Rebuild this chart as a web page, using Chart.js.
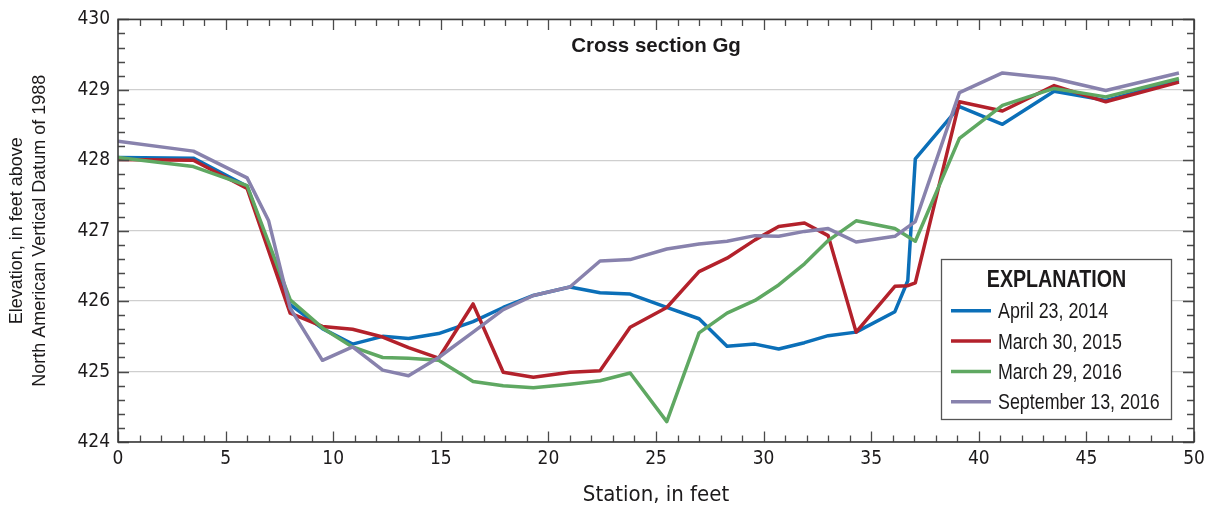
<!DOCTYPE html>
<html>
<head>
<meta charset="utf-8">
<script src="https://cdn.jsdelivr.net/npm/chart.js@4.4.1/dist/chart.umd.min.js"></script>
<style>
  html, body { margin: 0; padding: 0; background: #ffffff; }
  #wrap { width: 1214px; height: 510px; }
</style>
</head>
<body>
<div id="wrap"><canvas id="c" width="1214" height="510"></canvas></div>
<script>
// ---- Data ----
const stations = [0, 3.5, 6.0, 7.0, 8.0, 9.5, 10.9, 12.3, 13.5, 14.9, 16.5, 17.9, 19.3, 21.0, 22.4, 23.8,
                  25.5, 27.0, 28.3, 29.6, 30.7, 31.9, 33.0, 34.3, 36.1, 36.7, 37.05, 39.1, 41.1, 43.5, 45.9, 49.3];

const april2014 = [428.04, 428.03, 427.63, null, 425.95, 425.61, 425.39, 425.50, 425.47, 425.54, 425.71, 425.91,
                   426.08, 426.20, 426.12, 426.10, 425.91, 425.75, 425.36, 425.39, 425.32, 425.41, 425.51, 425.56,
                   425.85, 426.29, 428.02, 428.76, 428.51, 428.98, 428.85, 429.13];

const march2015 = [428.01, 428.00, 427.60, null, 425.83, 425.64, 425.60, 425.49, 425.34, 425.19, 425.96, 424.99,
                   424.92, 424.99, 425.01, 425.63, 425.91, 426.42, 426.61, 426.87, 427.06, 427.11, 426.93, 425.56,
                   426.21, 426.22, 426.26, 428.83, 428.70, 429.06, 428.83, 429.11];

const march2016 = [428.04, 427.91, 427.64, null, 426.02, 425.62, 425.35, 425.20, 425.19, 425.16, 424.86, 424.80,
                   424.77, 424.82, 424.87, 424.98, 424.29, 425.55, 425.83, 426.01, 426.23, 426.53, 426.86, 427.14,
                   427.03, null, 426.85, 428.31, 428.78, 429.02, 428.90, 429.16];

const sept2016 = [428.27, 428.13, 427.75, 427.14, 425.90, 425.16, 425.35, 425.02, 424.94, 425.20, 425.56, 425.88,
                  426.08, 426.20, 426.57, 426.59, 426.74, 426.81, 426.85, 426.93, 426.92, 426.99, 427.03, 426.84,
                  426.92, null, 427.13, 428.96, 429.24, 429.16, 428.99, 429.24];

const seriesLabels = ['April 23, 2014', 'March 30, 2015', 'March 29, 2016', 'September 13, 2016'];
const seriesColors = ['#0b6fb8', '#b3212b', '#5fa862', '#8882ad'];
const xTickValues = [0, 5, 10, 15, 20, 25, 30, 35, 40, 45, 50];
const yTickValues = [424, 425, 426, 427, 428, 429, 430];
const chartTitle = 'Cross section Gg';
const legendTitle = 'EXPLANATION';
const xTitle = 'Station, in feet';
const yTitle = ['Elevation, in feet above', 'North American Vertical Datum of 1988'];

// ---- Style ----
const CONDENSED = "'DejaVu Sans Condensed', 'Liberation Sans Narrow', 'Arial Narrow', sans-serif";
const REGULAR = "'Liberation Sans', Arial, sans-serif";
const TEXT = '#1c1a1b';

function pts(vals) { return stations.map((s, i) => ({ x: s, y: vals[i] })); }
const allSeries = [april2014, march2015, march2016, sept2016];

const datasets = allSeries.map((vals, i) => ({
  label: seriesLabels[i],
  data: pts(vals),
  borderColor: seriesColors[i],
  backgroundColor: seriesColors[i],
  borderWidth: 3.5,
  pointRadius: 0,
  tension: 0,
  spanGaps: true,
  fill: false,
  order: 4 - i
}));

// horizontally compressed text (imitates the condensed face of the original)
function narrowText(ctx, text, x, y, sx) {
  ctx.save();
  ctx.translate(x, y);
  ctx.scale(sx, 1);
  ctx.fillText(text, 0, 0);
  ctx.restore();
}

const framePlugin = {
  id: 'frame',
  afterDraw(chart) {
    const { ctx, chartArea: a, scales } = chart;
    const xs = scales.x, ys = scales.y;
    ctx.save();
    ctx.strokeStyle = '#4a4a4a';
    ctx.lineWidth = 1.3;
    ctx.beginPath();
    for (let v = 0; v <= 50; v += 1) {
      const px = Math.round(xs.getPixelForValue(v)) + 0.5;
      const len = (v % 5 === 0) ? 10.5 : 6.5;
      ctx.moveTo(px, a.bottom); ctx.lineTo(px, a.bottom - len);
      ctx.moveTo(px, a.top); ctx.lineTo(px, a.top + len);
    }
    for (let k = 0; k <= 30; k++) {
      const v = 424 + k * 0.2;
      const py = Math.round(ys.getPixelForValue(v)) + 0.5;
      const len = (k % 5 === 0) ? 11 : 7;
      ctx.moveTo(a.left, py); ctx.lineTo(a.left + len, py);
      ctx.moveTo(a.right, py); ctx.lineTo(a.right - len, py);
    }
    ctx.stroke();
    ctx.strokeStyle = '#3a3a3a';
    ctx.lineWidth = 1.6;
    ctx.strokeRect(a.left, a.top, a.right - a.left, a.bottom - a.top);

    // title inside plot
    ctx.fillStyle = TEXT;
    ctx.font = "bold 20.5px " + REGULAR;
    ctx.textAlign = 'center';
    ctx.textBaseline = 'alphabetic';
    ctx.fillText(chartTitle, (a.left + a.right) / 2, 52);

    // legend box
    const bx = 941, by = 259, bw = 230, bh = 160;
    ctx.fillStyle = '#ffffff';
    ctx.fillRect(bx, by, bw, bh);
    ctx.strokeStyle = '#555555';
    ctx.lineWidth = 1.3;
    ctx.strokeRect(bx + 0.5, by + 0.5, bw, bh);
    ctx.fillStyle = TEXT;
    ctx.font = "bold 23px " + REGULAR;
    ctx.textAlign = 'center';
    narrowText(ctx, legendTitle, bx + bw / 2 + 0.5, 287, 0.855);
    ctx.textAlign = 'left';
    ctx.font = "21.5px " + REGULAR;
    chart.data.datasets.forEach((ds, i) => {
      const base = 318.3 + i * 30.3;
      ctx.strokeStyle = ds.borderColor;
      ctx.lineWidth = 3.5;
      ctx.beginPath();
      ctx.moveTo(951, base - 7.5);
      ctx.lineTo(991, base - 7.5);
      ctx.stroke();
      ctx.fillStyle = TEXT;
      narrowText(ctx, ds.label, 998, base, 0.83);
    });
    ctx.restore();
  }
};

new Chart(document.getElementById('c'), {
  type: 'line',
  data: { datasets },
  options: {
    responsive: false,
    animation: false,
    layout: { padding: { top: 15, right: 20, left: 0, bottom: 0 } },
    plugins: { legend: { display: false }, tooltip: { enabled: false }, title: { display: false } },
    elements: { point: { radius: 0 }, line: { borderJoinStyle: 'round', borderCapStyle: 'butt' } },
    scales: {
      x: {
        type: 'linear', min: 0, max: 50,
        afterBuildTicks: (s) => { s.ticks = xTickValues.map(v => ({ value: v })); },
        ticks: { padding: 6, color: TEXT, font: { family: CONDENSED, size: 19 }, maxRotation: 0, autoSkip: false },
        grid: { display: false, drawTicks: false },
        border: { display: false },
        title: { display: true, text: xTitle, color: TEXT, font: { family: CONDENSED, size: 22, lineHeight: 1.2 }, padding: { top: 0, bottom: 2 } },
        afterFit: (s) => { s.height = 68; }
      },
      y: {
        type: 'linear', min: 424, max: 430,
        afterBuildTicks: (s) => { s.ticks = yTickValues.map(v => ({ value: v })); },
        ticks: { padding: 8, color: TEXT, font: { family: CONDENSED, size: 19 } },
        grid: { color: '#cfcfcf', lineWidth: 1.3, drawTicks: false },
        border: { display: false },
        title: { display: true, text: yTitle, color: TEXT, font: { family: REGULAR, size: 18, lineHeight: 1.25 }, padding: { top: 6, bottom: 0 } },
        afterFit: (s) => { s.width = 118; }
      }
    }
  },
  plugins: [framePlugin]
});
</script>
</body>
</html>
